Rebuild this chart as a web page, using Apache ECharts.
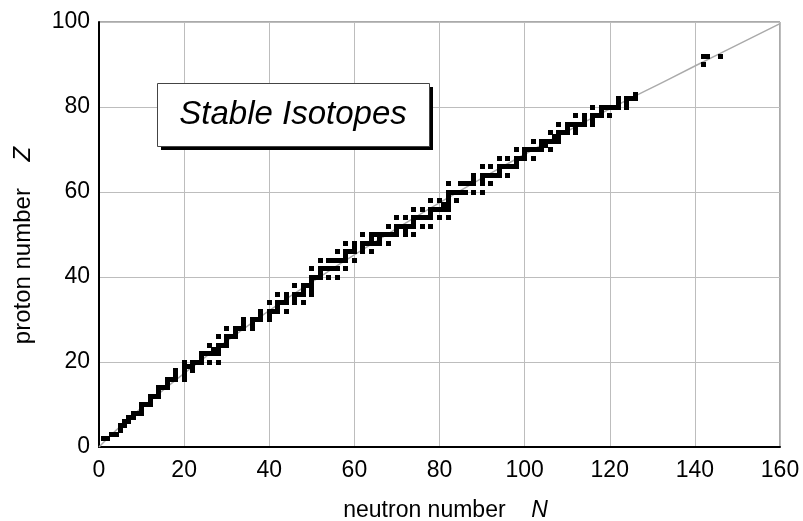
<!DOCTYPE html>
<html>
<head>
<meta charset="utf-8">
<script src="https://cdn.jsdelivr.net/npm/echarts@6/dist/echarts.min.js"></script>
<style>
  html, body { margin: 0; padding: 0; background: #fff; }
  #chart { width: 803px; height: 521px; }
</style>
</head>
<body>
<div id="chart"></div>
<script>
// Proton number of each element with at least one stable (or primordial) nuclide
const protonZ = [
  2, 3, 4, 5, 6, 7, 8, 9, 10,
  11, 12, 13, 14, 15, 16, 17, 18, 19, 20,
  21, 22, 23, 24, 25, 26, 27, 28, 29, 30,
  31, 32, 33, 34, 35, 36, 37, 38, 39, 40,
  41, 42, 44, 45, 46, 47, 48, 49, 50,
  51, 52, 53, 54, 55, 56, 57, 58, 59, 60,
  62, 63, 64, 65, 66, 67, 68, 69, 70,
  71, 72, 73, 74, 75, 76, 77, 78, 79, 80,
  81, 82, 83, 90, 92
];

// Neutron numbers of the stable nuclides of each element above
const neutronN = [
  [1, 2], [3, 4], [5], [5, 6], [6, 7], [7, 8], [8, 9, 10], [10], [10, 11, 12],
  [12], [12, 13, 14], [14], [14, 15, 16], [16], [16, 17, 18, 20], [18, 20], [18, 20, 22], [20, 21, 22], [20, 22, 23, 24, 26, 28],
  [24], [24, 25, 26, 27, 28], [27, 28], [26, 28, 29, 30], [30], [28, 30, 31, 32], [32], [30, 32, 33, 34, 36], [34, 36], [34, 36, 37, 38, 40],
  [38, 40], [38, 40, 41, 42, 44], [42], [40, 42, 43, 44, 46, 48], [44, 46], [42, 44, 46, 47, 48, 50], [48, 50], [46, 48, 49, 50], [50], [50, 51, 52, 54, 56],
  [52], [50, 52, 53, 54, 55, 56, 58], [52, 54, 55, 56, 57, 58, 60], [58], [56, 58, 59, 60, 62, 64], [60, 62], [58, 60, 62, 63, 64, 65, 66, 68], [64, 66], [62, 64, 65, 66, 67, 68, 69, 70, 72, 74],
  [70, 72], [68, 70, 71, 72, 73, 74, 76, 78], [74], [70, 72, 74, 75, 76, 77, 78, 80, 82], [78], [74, 76, 78, 79, 80, 81, 82], [81, 82], [78, 80, 82, 84], [82], [82, 83, 84, 85, 86, 88, 90],
  [82, 85, 86, 87, 88, 90, 92], [88, 90], [88, 90, 91, 92, 93, 94, 96], [94], [90, 92, 94, 95, 96, 97, 98], [98], [94, 96, 98, 99, 100, 102], [100], [98, 100, 101, 102, 103, 104, 106],
  [104, 105], [102, 104, 105, 106, 107, 108], [107, 108], [106, 108, 109, 110, 112], [110, 112], [108, 110, 111, 112, 113, 114, 116], [114, 116], [112, 114, 116, 117, 118, 120], [118], [116, 118, 119, 120, 121, 122, 124],
  [122, 124], [122, 124, 125, 126], [126], [142], [142, 143, 146]
];

// Line of stability, sampled along its length
const stabilityN = [0, 2.0, 5.1, 10.5, 21.5, 33.0, 44.7, 56.8, 69.1, 81.6, 94.3, 107.2, 120.3, 133.6, 146.9, 160];
const stabilityZ = [0, 2.0, 4.9, 9.6, 18.5, 27.1, 35.3, 43.2, 50.9, 58.4, 65.7, 72.8, 79.7, 86.4, 93.1, 99.6];

// Axis ticks
const xTicks = [0, 20, 40, 60, 80, 100, 120, 140, 160];
const yTicks = [0, 20, 40, 60, 80, 100];

const nuclides = [];
protonZ.forEach(function (z, i) {
  neutronN[i].forEach(function (n) { nuclides.push([n, z]); });
});
const stabilityLine = stabilityN.map(function (n, i) { return [n, stabilityZ[i]]; });

const FONT = '"Liberation Sans", Arial, Helvetica, sans-serif';
const CELL = 5; // marker edge, px

// One square per nuclide, snapped to whole pixels so neighbouring squares join into solid bars
function renderCell(params, api) {
  const c = api.coord([api.value(0), api.value(1)]);
  return {
    type: 'rect',
    shape: {
      x: Math.round(c[0] - CELL / 2),
      y: Math.round(c[1] - CELL / 2),
      width: CELL,
      height: CELL
    },
    style: { fill: '#000' }
  };
}

const chart = echarts.init(document.getElementById('chart'), null, { renderer: 'canvas' });
chart.setOption({
  animation: false,
  backgroundColor: '#fff',
  textStyle: { fontFamily: FONT, color: '#000' },
  grid: {
    left: 99, right: 23, top: 22, bottom: 74,
    show: true, borderColor: '#555', borderWidth: 1,
    containLabel: false, outerBoundsMode: 'none'
  },
  xAxis: {
    type: 'value',
    min: xTicks[0], max: xTicks[xTicks.length - 1], interval: xTicks[1] - xTicks[0],
    name: 'neutron number    {i|N}',
    nameLocation: 'middle', nameGap: 52,
    nameTextStyle: {
      fontFamily: FONT, fontSize: 23, color: '#000',
      padding: [0, 0, 0, 12],
      rich: { i: { fontFamily: FONT, fontSize: 23, fontStyle: 'italic', color: '#000' } }
    },
    axisLine: { show: true, onZero: false, lineStyle: { color: '#000', width: 2 } },
    axisTick: { show: false },
    axisLabel: { fontFamily: FONT, fontSize: 23, color: '#000', margin: 12 },
    splitLine: { show: true, lineStyle: { color: '#bdbdbd', width: 1 } }
  },
  yAxis: {
    type: 'value',
    min: yTicks[0], max: yTicks[yTicks.length - 1], interval: yTicks[1] - yTicks[0],
    name: 'proton number    {i|Z}',
    nameLocation: 'middle', nameGap: 64, nameRotate: 90,
    nameTextStyle: {
      fontFamily: FONT, fontSize: 24, color: '#000',
      padding: [0, 22, 0, 0],
      rich: { i: { fontFamily: FONT, fontSize: 24, fontStyle: 'italic', color: '#000' } }
    },
    axisLine: { show: true, onZero: false, lineStyle: { color: '#000', width: 2 } },
    axisTick: { show: false },
    axisLabel: { fontFamily: FONT, fontSize: 23, color: '#000', margin: 9 },
    splitLine: { show: true, lineStyle: { color: '#bdbdbd', width: 1 } }
  },
  series: [
    {
      name: 'line of stability',
      type: 'line',
      data: stabilityLine,
      smooth: true,
      showSymbol: false,
      silent: true,
      z: 1,
      lineStyle: { color: '#ababab', width: 1.5 }
    },
    {
      name: 'stable isotopes',
      type: 'custom',
      data: nuclides,
      renderItem: renderCell,
      encode: { x: 0, y: 1 },
      silent: true,
      clip: true,
      z: 2
    }
  ],
  graphic: [
    {
      type: 'rect', left: 161, top: 87, z: 10,
      shape: { width: 272, height: 63 },
      style: { fill: '#000' }
    },
    {
      type: 'rect', left: 157, top: 83, z: 11,
      shape: { width: 272, height: 63 },
      style: { fill: '#fff', stroke: '#444', lineWidth: 1 }
    },
    {
      type: 'text', x: 293, y: 115, z: 12,
      style: {
        text: 'Stable Isotopes',
        font: 'italic 33px ' + FONT,
        fill: '#000',
        align: 'center',
        verticalAlign: 'middle'
      }
    }
  ]
});
</script>
</body>
</html>
